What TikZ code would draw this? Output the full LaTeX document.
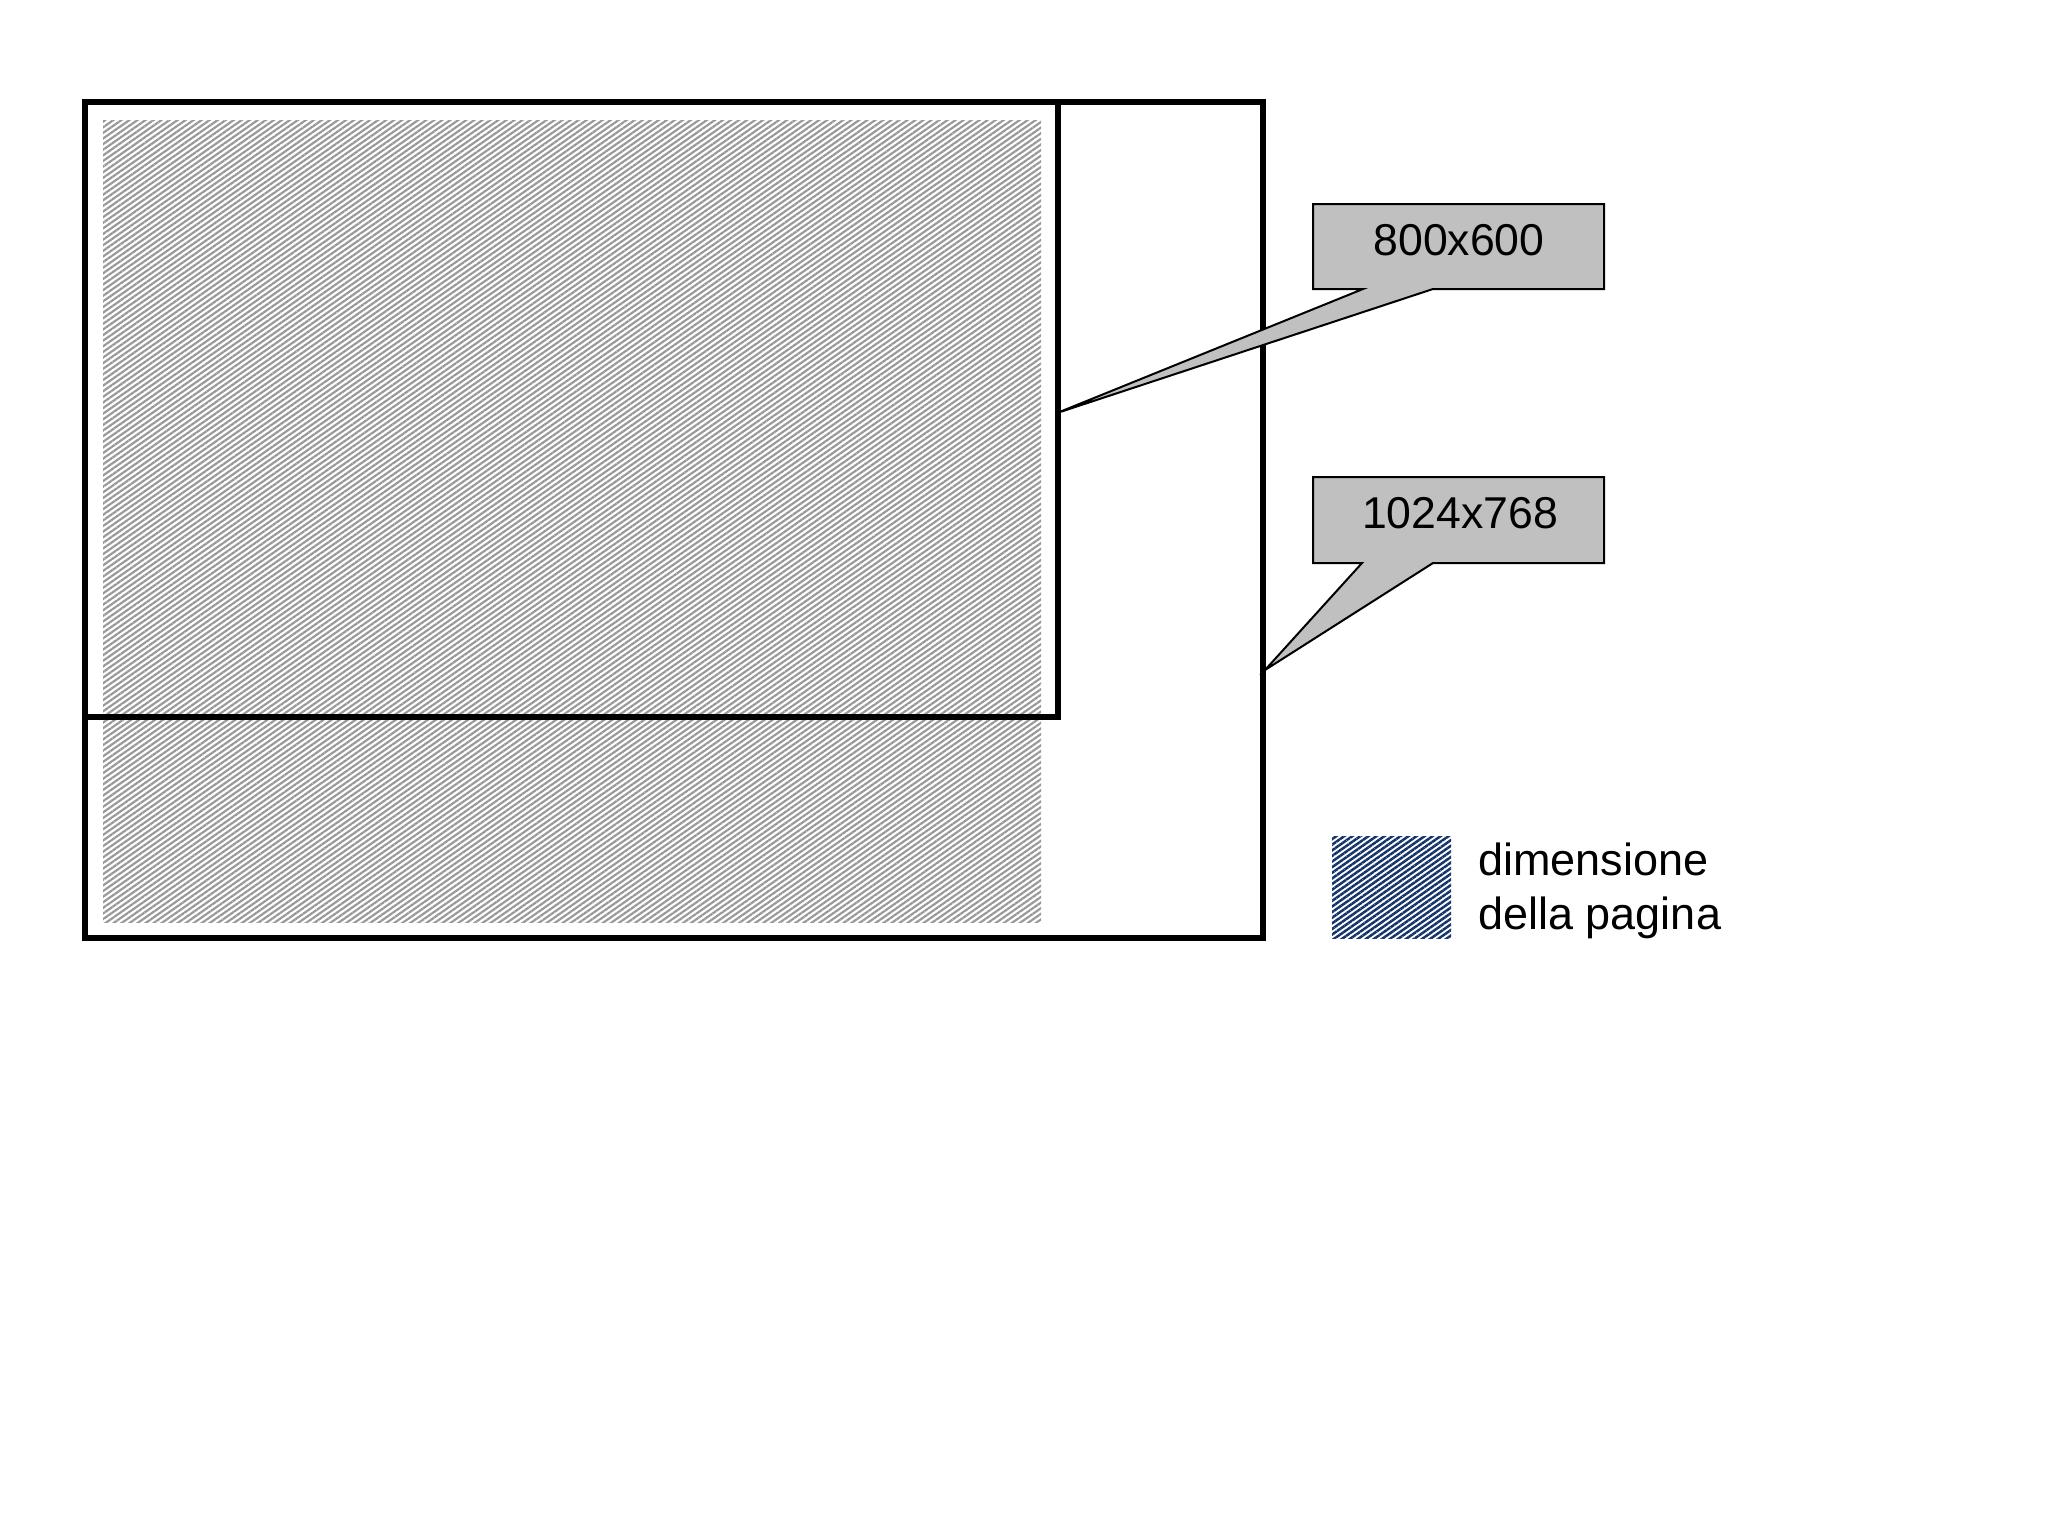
\documentclass[tikz,border=0pt]{standalone}
\usepackage{fontspec}
\setmainfont{Liberation Sans}
\usetikzlibrary{patterns.meta}
\definecolor{hatchgray}{HTML}{999999}
\definecolor{hatchblue}{HTML}{15356A}
\definecolor{callgray}{HTML}{C0C0C0}
\tikzset{
  frame/.style={draw=black, line width=2.6pt},
  grayhatch/.style={pattern={Lines[angle=35,distance=2.3pt,line width=1.1pt]}, pattern color=hatchgray},
  bluehatch/.style={pattern={Lines[angle=35,distance=2.3pt,line width=1.25pt]}, pattern color=hatchblue},
  callout/.style={fill=callgray, draw=black, line width=1pt, line join=miter},
  calltext/.style={font=\fontsize{22.3}{26.5}\selectfont, inner sep=0pt, anchor=base},
  legtext/.style={font=\fontsize{22.5}{27}\selectfont, inner sep=0pt, align=left, anchor=north west}
}
\begin{document}
\begin{tikzpicture}[x=0.5pt,y=-0.5pt]
\useasboundingbox (0,0) rectangle (2048,1536);
% hatched page area
\path[grayhatch] (103,120) rectangle (1041,922);
% frames
\draw[frame] (85,102) rectangle (1263,938);
\draw[frame] (85,102) rectangle (1058,717);
% tip coordinates
\coordinate (tipA) at (1057,413);
\coordinate (tipB) at (1265,670);
% callout 800x600
\draw[callout] (1313,204) -- (1604,204) -- (1604,289) -- (1433,289) -- (tipA) -- (1363,289) -- (1313,289) -- cycle;
\node[calltext] (lblA) at (1459,255) {800x600};
% callout 1024x768
\draw[callout] (1313,477) -- (1604,477) -- (1604,563) -- (1433,563) -- (tipB) -- (1362,563) -- (1313,563) -- cycle;
\node[calltext] (lblB) at (1460,528) {1024x768};
% legend
\path[bluehatch] (1332,836) rectangle (1451,938);
\node[legtext] (leg) at (1478,842) {dimensione\\della pagina};
\end{tikzpicture}
\end{document}
